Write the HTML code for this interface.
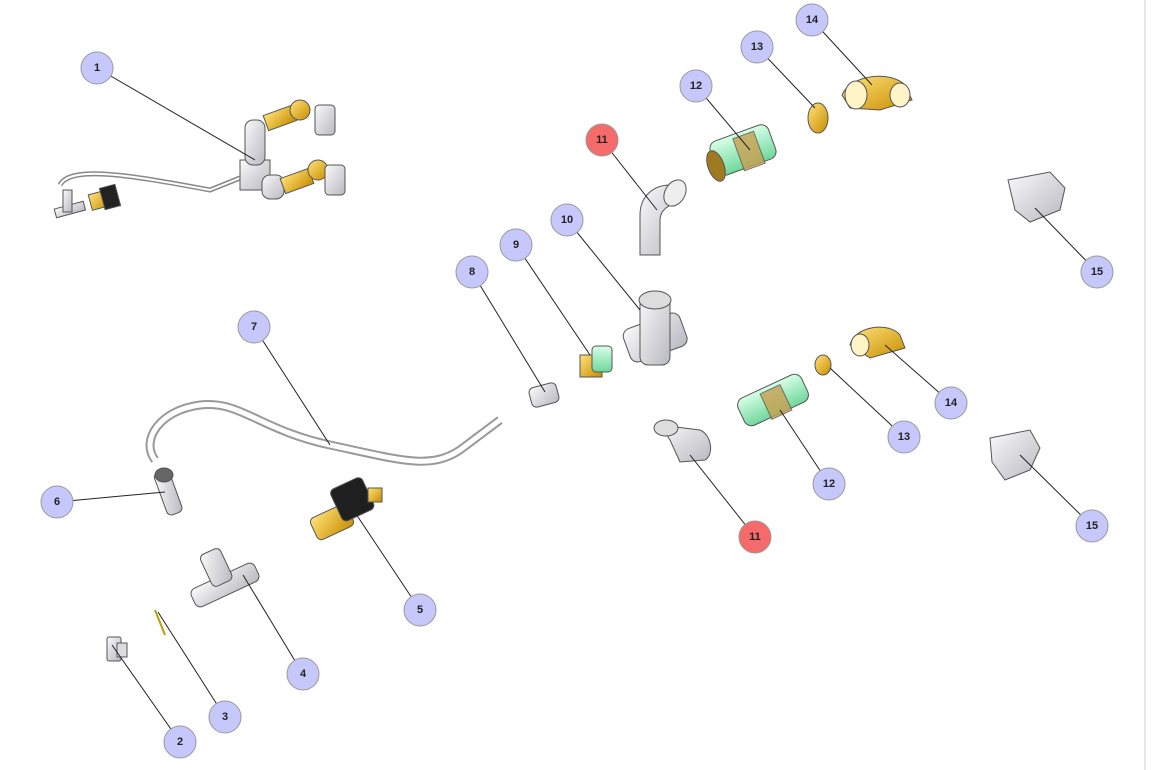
<!DOCTYPE html>
<html><head><style>
html,body{margin:0;padding:0;background:#fff;width:1152px;height:770px;overflow:hidden}
svg{display:block}
text{font-family:"Liberation Sans",sans-serif;font-weight:bold;font-size:11px;fill:#222;text-anchor:middle;dominant-baseline:central}
</style></head><body>
<svg width="1152" height="770" viewBox="0 0 1152 770">
<line x1="1145" y1="0" x2="1145" y2="770" stroke="#e8e8e8" stroke-width="2"/>
<defs>
<linearGradient id="g" x1="0" y1="0" x2="1" y2="1"><stop offset="0" stop-color="#fafafa"/><stop offset="1" stop-color="#b8b8c0"/></linearGradient>
<linearGradient id="gr" x1="0" y1="0" x2="0" y2="1"><stop offset="0" stop-color="#d8ffe8"/><stop offset="1" stop-color="#6fd79a"/></linearGradient>
<linearGradient id="au" x1="0" y1="0" x2="1" y2="1"><stop offset="0" stop-color="#ffe27a"/><stop offset="1" stop-color="#c98d00"/></linearGradient>
</defs>
<g stroke="#555" stroke-width="1">
<!-- part 1 assembly -->
<path d="M60,185 C70,165 130,175 210,190 L240,178" fill="none" stroke="#888" stroke-width="5"/>
<path d="M60,185 C70,165 130,175 210,190 L240,178" fill="none" stroke="#fff" stroke-width="2"/>
<rect x="240" y="160" width="30" height="30" fill="url(#g)"/>
<rect x="245" y="120" width="20" height="45" rx="8" fill="url(#g)"/>
<rect x="262" y="175" width="22" height="24" rx="8" fill="url(#g)"/>
<rect x="265" y="110" width="30" height="16" fill="url(#au)" transform="rotate(-20 280 118)"/>
<rect x="282" y="173" width="30" height="16" fill="url(#au)" transform="rotate(-20 297 181)"/>
<circle cx="300" cy="110" r="10" fill="url(#au)"/>
<circle cx="318" cy="170" r="10" fill="url(#au)"/>
<rect x="315" y="105" width="20" height="30" rx="4" fill="url(#g)"/>
<rect x="325" y="165" width="20" height="30" rx="4" fill="url(#g)"/>
<rect x="55" y="205" width="30" height="9" fill="url(#g)" transform="rotate(-15 70 210)"/>
<rect x="63" y="190" width="9" height="22" fill="url(#g)"/>
<rect x="90" y="192" width="20" height="16" fill="url(#au)" transform="rotate(-15 100 200)"/>
<rect x="102" y="186" width="16" height="22" fill="#222" transform="rotate(-15 110 197)"/>
<!-- 7 hose -->
<path d="M155,460 C140,440 160,410 200,405 C240,400 260,430 330,445 C400,460 430,470 460,450 L500,420" fill="none" stroke="#999" stroke-width="9"/>
<path d="M155,460 C140,440 160,410 200,405 C240,400 260,430 330,445 C400,460 430,470 460,450 L500,420" fill="none" stroke="#fff" stroke-width="5"/>
<!-- 6 -->
<rect x="160" y="470" width="16" height="45" rx="5" fill="url(#g)" transform="rotate(-20 168 492)"/>
<ellipse cx="164" cy="475" rx="9" ry="7" fill="#666"/>
<!-- 5 -->
<rect x="312" y="510" width="40" height="24" rx="5" fill="url(#au)" transform="rotate(-25 332 522)"/>
<rect x="335" y="482" width="35" height="35" rx="5" fill="#1f1f1f" transform="rotate(-25 352 500)"/>
<rect x="368" y="488" width="14" height="14" fill="url(#au)"/>
<!-- 4 -->
<rect x="190" y="575" width="70" height="20" rx="6" fill="url(#g)" transform="rotate(-25 225 585)"/>
<rect x="205" y="550" width="22" height="35" rx="5" fill="url(#g)" transform="rotate(-25 216 567)"/>
<!-- 3 -->
<line x1="155" y1="610" x2="165" y2="635" stroke="#b8a000" stroke-width="2"/>
<!-- 2 -->
<rect x="107" y="637" width="14" height="24" rx="2" fill="url(#g)"/>
<rect x="117" y="643" width="10" height="14" fill="#ddd"/>
<!-- 8 -->
<rect x="530" y="385" width="28" height="20" rx="5" fill="url(#g)" transform="rotate(-15 544 395)"/>
<!-- 9 -->
<rect x="580" y="355" width="22" height="22" fill="url(#au)"/>
<rect x="592" y="346" width="20" height="26" rx="4" fill="url(#gr)"/>
<!-- 10 tee -->
<rect x="625" y="320" width="60" height="35" rx="8" fill="url(#g)" transform="rotate(-20 655 337)"/>
<rect x="640" y="295" width="30" height="70" rx="8" fill="url(#g)"/>
<ellipse cx="655" cy="300" rx="16" ry="9" fill="#ddd"/>
<!-- 11 top elbow -->
<path d="M640,255 L640,215 C640,195 655,185 670,185 L682,200 C668,205 660,210 660,220 L660,255 Z" fill="url(#g)"/>
<ellipse cx="675" cy="193" rx="10" ry="14" fill="#eee" transform="rotate(30 675 193)"/>
<!-- 11 bottom elbow -->
<path d="M660,425 L700,430 C712,435 714,455 705,460 L680,462 L670,440 Z" fill="url(#g)"/>
<ellipse cx="666" cy="428" rx="12" ry="8" fill="#ddd"/>
<!-- 12 top -->
<rect x="712" y="132" width="62" height="36" rx="8" fill="url(#gr)" transform="rotate(-20 743 150)"/>
<rect x="738" y="134" width="22" height="34" fill="#c8a050" transform="rotate(-20 749 151)" opacity=".8"/>
<ellipse cx="716" cy="166" rx="8" ry="16" fill="#a07a20" transform="rotate(-20 716 166)"/>
<!-- 12 bottom -->
<rect x="738" y="385" width="70" height="30" rx="8" fill="url(#gr)" transform="rotate(-25 773 400)"/>
<rect x="765" y="388" width="22" height="28" fill="#c8a050" transform="rotate(-25 776 402)" opacity=".8"/>
<!-- 13 -->
<ellipse cx="818" cy="118" rx="10" ry="15" fill="url(#au)"/>
<ellipse cx="823" cy="365" rx="8" ry="10" fill="url(#au)"/>
<!-- 14 -->
<path d="M842,95 C850,75 890,70 905,85 L912,100 L880,110 L850,108 Z" fill="url(#au)"/>
<ellipse cx="856" cy="95" rx="11" ry="14" fill="#fff4c8"/>
<ellipse cx="900" cy="95" rx="10" ry="12" fill="#fff4c8"/>
<path d="M850,345 C855,325 890,322 900,335 L905,348 L870,358 Z" fill="url(#au)"/>
<ellipse cx="860" cy="345" rx="9" ry="11" fill="#fff4c8"/>
<!-- 15 -->
<path d="M1008,180 L1050,172 L1065,188 L1060,210 L1030,222 L1015,210 Z" fill="url(#g)"/>
<path d="M990,438 L1030,430 L1040,448 L1030,470 L1005,480 L992,462 Z" fill="url(#g)"/>
</g>
<g stroke="#222" stroke-width="1">
<line x1="97" y1="68" x2="255" y2="160"/>
<line x1="180" y1="742" x2="112" y2="645"/>
<line x1="225" y1="717" x2="158" y2="612"/>
<line x1="303" y1="674" x2="243" y2="575"/>
<line x1="420" y1="610" x2="350" y2="505"/>
<line x1="57" y1="502" x2="165" y2="492"/>
<line x1="254" y1="327" x2="330" y2="445"/>
<line x1="472" y1="272" x2="545" y2="392"/>
<line x1="516" y1="245" x2="590" y2="355"/>
<line x1="567" y1="220" x2="640" y2="310"/>
<line x1="602" y1="140" x2="657" y2="210"/>
<line x1="696" y1="86" x2="750" y2="150"/>
<line x1="757" y1="47" x2="815" y2="108"/>
<line x1="812" y1="20" x2="872" y2="85"/>
<line x1="1097" y1="272" x2="1035" y2="208"/>
<line x1="951" y1="403" x2="885" y2="345"/>
<line x1="904" y1="437" x2="830" y2="368"/>
<line x1="829" y1="484" x2="780" y2="410"/>
<line x1="755" y1="537" x2="690" y2="455"/>
<line x1="1092" y1="526" x2="1020" y2="455"/>
</g>
<g stroke="#9a9a9a" stroke-width="1" fill="#c6c7fa">
<circle cx="97" cy="68" r="16"/><circle cx="180" cy="742" r="16"/><circle cx="225" cy="717" r="16"/>
<circle cx="303" cy="674" r="16"/><circle cx="420" cy="610" r="16"/><circle cx="57" cy="502" r="16"/>
<circle cx="254" cy="327" r="16"/><circle cx="472" cy="272" r="16"/><circle cx="516" cy="245" r="16"/>
<circle cx="567" cy="220" r="16"/><circle cx="602" cy="140" r="16" fill="#f56b6b"/>
<circle cx="696" cy="86" r="16"/><circle cx="757" cy="47" r="16"/><circle cx="812" cy="20" r="16"/>
<circle cx="1097" cy="272" r="16"/><circle cx="951" cy="403" r="16"/><circle cx="904" cy="437" r="16"/>
<circle cx="829" cy="484" r="16"/><circle cx="755" cy="537" r="16" fill="#f56b6b"/><circle cx="1092" cy="526" r="16"/>
</g>
<text x="97" y="68">1</text><text x="180" y="742">2</text><text x="225" y="717">3</text>
<text x="303" y="674">4</text><text x="420" y="610">5</text><text x="57" y="502">6</text>
<text x="254" y="327">7</text><text x="472" y="272">8</text><text x="516" y="245">9</text>
<text x="567" y="220">10</text><text x="602" y="140">11</text><text x="696" y="86">12</text>
<text x="757" y="47">13</text><text x="812" y="20">14</text><text x="1097" y="272">15</text>
<text x="951" y="403">14</text><text x="904" y="437">13</text><text x="829" y="484">12</text>
<text x="755" y="537">11</text><text x="1092" y="526">15</text>
</svg>
</body></html>
